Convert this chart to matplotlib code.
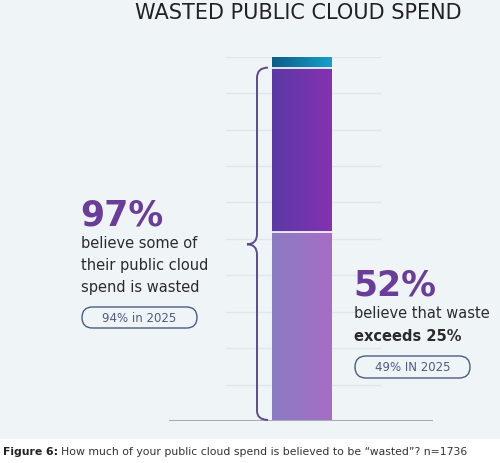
import matplotlib.pyplot as plt
import numpy as np
from matplotlib.path import Path
from matplotlib.patches import PathPatch, FancyBboxPatch, Rectangle

# data
segment_names = ["waste over 25%", "some waste", "no waste"]
segment_values = [52, 45, 3]
headline_all = 97
headline_over25 = 52
prev_all = "94% in 2025"
prev_over25 = "49% IN 2025"
grid_levels = [10, 20, 30, 40, 50, 60, 70, 80, 90, 100]

# gradient colours (left, right) for each stacked segment
seg_colors = [("#8a7cc2", "#a76dc6"), ("#5a3aa4", "#8531b1"), ("#0b5c86", "#179fca")]

W, H = 500, 463
fig = plt.figure(figsize=(W / 100, H / 100), dpi=100, facecolor="white")

# light panel behind the chart
fig.patches.append(Rectangle((0, 1 - 439 / H), 1, 439 / H, transform=fig.transFigure,
                             facecolor="#eff4f7", edgecolor="none", zorder=-5))

# axes: x in pixels, y in percent (0 at px 421, 100 at px 56.7)
ax_bottom = (H - 421) / H
ax_height = (421 - 56.7) / H
ax = fig.add_axes([0, ax_bottom, 1, ax_height])
ax.set_zorder(1)
ax.axis("off")

# overlay in pixel units for the pills
ov = fig.add_axes([0, 0, 1, 1])
ov.set_zorder(2)
ov.set_xlim(0, W)
ov.set_ylim(H, 0)
ov.axis("off")
ov.patch.set_alpha(0)

def px(x, y):
    return x / W, 1 - y / H

# faint gridlines
for g in grid_levels:
    ax.plot([226, 380], [g, g], color="#e1e6eb", lw=1.0, zorder=1)
# baseline
ax.plot([169, 433], [0, 0], color="#a8adb5", lw=1.5, zorder=3, solid_capstyle="butt")

# stacked bar with horizontal gradient
bar_x0, bar_x1 = 272, 332
bottom = 0
for val, (c0, c1) in zip(segment_values, seg_colors):
    a = np.array(plt.matplotlib.colors.to_rgb(c0))
    b = np.array(plt.matplotlib.colors.to_rgb(c1))
    t = np.linspace(0, 1, 200)[None, :, None]
    img = a + (b - a) * t
    ax.imshow(img, extent=(bar_x0, bar_x1, bottom, bottom + val), aspect="auto",
              zorder=2, interpolation="bilinear")
    bottom += val
    if bottom < 100:
        ax.plot([bar_x0, bar_x1], [bottom, bottom], color="white", lw=1.2, zorder=3,
                solid_capstyle="butt")
ax.set_xlim(0, W)
ax.set_ylim(0, 100)

# curly bracket spanning 0..97
top = headline_all
mid = top / 2
bx, tip = 257, 247
ry = 2.8
verts = [(268, top), (bx, top), (bx, top - ry),
         (bx, mid + ry), (bx, mid), (tip, mid),
         (bx, mid), (bx, mid - ry),
         (bx, ry), (bx, 0.3), (268, 0.3)]
codes = [Path.MOVETO, Path.CURVE3, Path.CURVE3,
         Path.LINETO, Path.CURVE3, Path.CURVE3,
         Path.CURVE3, Path.CURVE3,
         Path.LINETO, Path.CURVE3, Path.CURVE3]
ax.add_patch(PathPatch(Path(verts, codes), facecolor="none", edgecolor="#5e4a8c",
                       lw=1.4, zorder=4))

# title
fig.text(*px(298, 13), "WASTED PUBLIC CLOUD SPEND", ha="center", va="center",
         fontsize=15, color="#222222")

purple = "#6a3d9a"
dark = "#2b2b2b"
pill_col = "#4b5d85"

# left callout
fig.text(*px(80, 225), f"{headline_all}%", ha="left", va="baseline", fontsize=25,
         fontweight="bold", color=purple)
for i, line in enumerate(["believe some of", "their public cloud", "spend is wasted"]):
    fig.text(*px(81, 248 + i * 22), line, ha="left", va="baseline", fontsize=10.5, color=dark)

def pill(x0, y0, x1, y1, label):
    r = (y1 - y0) / 2
    ov.add_patch(FancyBboxPatch((x0, y0), x1 - x0, y1 - y0,
                                boxstyle=f"round,pad=0,rounding_size={r}",
                                facecolor="none", edgecolor=pill_col, lw=1.0))
    ov.text((x0 + x1) / 2, (y0 + y1) / 2 + 0.5, label, ha="center", va="center",
            fontsize=8.5, color=pill_col)

pill(82, 307, 197, 328, prev_all)

# right callout
fig.text(*px(353, 296), f"{headline_over25}%", ha="left", va="baseline", fontsize=25,
         fontweight="bold", color=purple)
fig.text(*px(354, 318), "believe that waste", ha="left", va="baseline", fontsize=10.5,
         color=dark)
fig.text(*px(354, 341), "exceeds 25%", ha="left", va="baseline", fontsize=10.5,
         color=dark, fontweight="bold")
pill(355, 356, 470, 378, prev_over25)

# caption
cap1 = fig.text(*px(3, 455), "Figure 6:", ha="left", va="baseline", fontsize=7.8,
                fontweight="bold", color="#222222")
fig.canvas.draw()
bb = cap1.get_window_extent()
fig.text((bb.x1 + 3) / W, 1 - 455 / H,
         "How much of your public cloud spend is believed to be “wasted”? n=1736",
         ha="left", va="baseline", fontsize=7.8, color="#333333")

fig.savefig("out.png", dpi=100, facecolor="white")
